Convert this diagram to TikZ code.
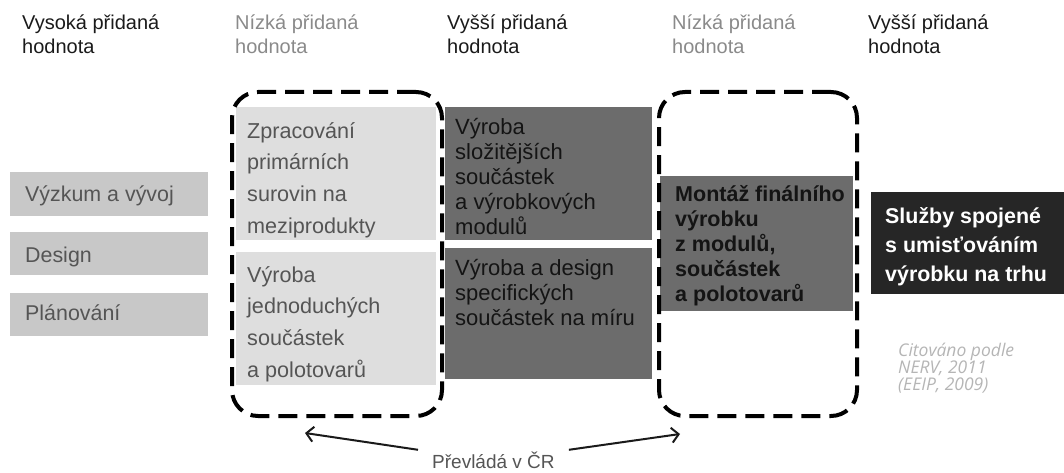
\documentclass[tikz,border=0pt]{standalone}
\usepackage{fontspec}
\setmainfont{Liberation Sans}
\newfontfamily\citefont{Open Sans}
\usetikzlibrary{arrows.meta}
\definecolor{hdgray}{HTML}{8A8A8A}
\definecolor{hdblack}{HTML}{1A1A1A}
\definecolor{leftfill}{HTML}{C8C8C8}
\definecolor{lightfill}{HTML}{DEDEDE}
\definecolor{darkfill}{HTML}{6C6C6C}
\definecolor{blackfill}{HTML}{262626}
\definecolor{txtgray}{HTML}{555555}
\definecolor{darktxt}{HTML}{141414}
\definecolor{citegray}{HTML}{B5B5B5}
\begin{document}
\begin{tikzpicture}[x=1pt,y=-1pt,
  hdr/.style={anchor=base west, align=left, inner sep=0pt, font=\fontsize{20}{24}\selectfont},
  boxbase/.style={anchor=north west, inner sep=0pt, draw=none},
  leftbox/.style={boxbase, fill=leftfill, minimum width=198pt},
  lightbox/.style={boxbase, fill=lightfill, minimum width=200pt, minimum height=133pt},
  darkbox/.style={boxbase, fill=darkfill, minimum width=207pt},
  lefttxt/.style={anchor=base west, inner sep=0pt, text=txtgray, font=\fontsize{21.4}{24}\selectfont},
  lighttxt/.style={anchor=base west, align=left, inner sep=0pt, text=txtgray, font=\fontsize{21.6}{31.6}\selectfont},
  darktxtst/.style={anchor=base west, align=left, inner sep=0pt, text=darktxt, font=\fontsize{22}{25}\selectfont},
  dashbox/.style={anchor=north west, inner sep=0pt, draw=black, line width=4pt, rounded corners=26pt, dash pattern=on 19pt off 9pt, minimum height=324pt},
  arr/.style={draw=hdblack, line width=2pt, -{Straight Barb[length=7pt,width=15pt,line width=2pt]}}
]
\useasboundingbox (0,0) rectangle (1064,473);

% headers (anchor = baseline of the last line)
\node[hdr, text=hdblack] (h1) at (22,54) {Vysoká přidaná\\hodnota};
\node[hdr, text=hdgray] (h2) at (235,54) {Nízká přidaná\\hodnota};
\node[hdr, text=hdblack] (h3) at (447,54) {Vyšší přidaná\\hodnota};
\node[hdr, text=hdgray] (h4) at (672,54) {Nízká přidaná\\hodnota};
\node[hdr, text=hdblack] (h5) at (868,54) {Vyšší přidaná\\hodnota};

% left boxes
\node[leftbox, minimum height=44pt] (b1) at (10,172) {};
\node[leftbox, minimum height=43pt] (b2) at (10,232) {};
\node[leftbox, minimum height=43pt] (b3) at (10,293) {};
\node[lefttxt] (t1) at (25,201) {Výzkum a vývoj};
\node[lefttxt] (t2) at (25,262) {Design};
\node[lefttxt] (t3) at (25,320) {Plánování};

% light boxes
\node[lightbox] (l1) at (236,107) {};
\node[lightbox] (l2) at (236,252) {};
\node[lighttxt] (lt1) at (247,233) {Zpracování\\primárních\\surovin na\\meziprodukty};
\node[lighttxt] (lt2) at (247,377) {Výroba\\jednoduchých\\součástek\\a polotovarů};

% dark boxes
\node[darkbox, minimum height=133pt] (d1) at (445,107) {};
\node[darkbox, minimum height=131pt] (d2) at (445,248) {};
\node[darktxtst] (dt1) at (455,234) {Výroba\\složitějších\\součástek\\a výrobkových\\modulů};
\node[darktxtst] (dt2) at (455,325) {Výroba a design\\specifických\\součástek na míru};

% montaz
\node[boxbase, fill=darkfill, minimum width=193pt, minimum height=135pt] (m) at (660,176) {};
\node[darktxtst, font=\fontsize{21.5}{25}\bfseries\selectfont] (mt) at (675,301) {Montáž finálního\\výrobku\\z modulů,\\součástek\\a polotovarů};

% sluzby
\node[boxbase, fill=blackfill, minimum width=193pt, minimum height=102pt] (s) at (871,192) {};
\node[anchor=base west, align=left, inner sep=0pt, text=white, font=\fontsize{21.4}{29}\bfseries\selectfont] (st) at (885,281) {Služby spojené\\s umisťováním\\výrobku na trhu};

% citation
\node[anchor=base west, align=left, inner sep=0pt, text=citegray, font=\citefont\itshape\fontsize{17.5}{17}\selectfont] (cit) at (898,390) {Citováno podle\\NERV, 2011\\(EEIP, 2009)};

% dashed groups
\node[dashbox, minimum width=210pt] (g1) at (230,90) {};
\node[dashbox, minimum width=198pt] (g2) at (657,90) {};

% bottom label and arrows
\node[anchor=base west, inner sep=0pt, text=txtgray, font=\fontsize{19}{22}\selectfont] (prev) at (432,468) {Převládá v ČR};
\coordinate (al) at (305,433);
\coordinate (ar) at (680,434);
\draw[arr] ([shift={(-14,-10)}]prev.west) -- (al);
\draw[arr] ([shift={(14,-10)}]prev.east) -- (ar);
\end{tikzpicture}
\end{document}
